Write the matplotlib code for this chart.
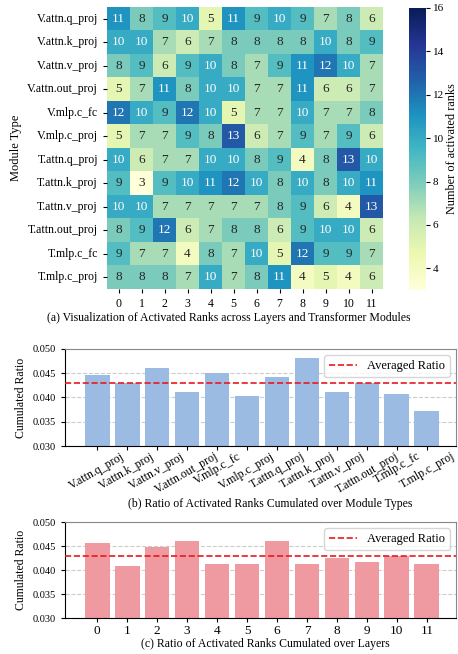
import numpy as np
import matplotlib.pyplot as plt
import seaborn as sns

plt.rcParams['font.family'] = ['Liberation Serif', 'DejaVu Serif']
plt.rcParams['mathtext.fontset'] = 'stix'

modules = ['V.attn.q_proj', 'V.attn.k_proj', 'V.attn.v_proj', 'V.attn.out_proj',
           'V.mlp.c_fc', 'V.mlp.c_proj', 'T.attn.q_proj', 'T.attn.k_proj',
           'T.attn.v_proj', 'T.attn.out_proj', 'T.mlp.c_fc', 'T.mlp.c_proj']
layers = list(range(12))

# activated ranks per (module, layer)
ranks = np.array([
    [11, 8, 9, 10, 5, 11, 9, 10, 9, 7, 8, 6],
    [10, 10, 7, 6, 7, 8, 8, 8, 8, 10, 8, 9],
    [8, 9, 6, 9, 10, 8, 7, 9, 11, 12, 10, 7],
    [5, 7, 11, 8, 10, 10, 7, 7, 11, 6, 6, 7],
    [12, 10, 9, 12, 10, 5, 7, 7, 10, 7, 7, 8],
    [5, 7, 7, 9, 8, 13, 6, 7, 9, 7, 9, 6],
    [10, 6, 7, 7, 10, 10, 8, 9, 4, 8, 13, 10],
    [9, 3, 9, 10, 11, 12, 10, 8, 10, 8, 10, 11],
    [10, 10, 7, 7, 7, 7, 7, 8, 9, 6, 4, 13],
    [8, 9, 12, 6, 7, 8, 8, 6, 9, 10, 10, 6],
    [9, 7, 7, 4, 8, 7, 10, 5, 12, 9, 9, 7],
    [8, 8, 8, 7, 10, 7, 8, 11, 4, 5, 4, 6],
])

module_ratio = [0.0447, 0.0430, 0.0460, 0.0412, 0.0451, 0.0404,
                0.0443, 0.0482, 0.0412, 0.0430, 0.0408, 0.0373]
layer_ratio = [0.0456, 0.0408, 0.0447, 0.0460, 0.0412, 0.0412,
               0.0460, 0.0412, 0.0425, 0.0417, 0.0430, 0.0412]
avg_ratio = 0.0429

W, H = 458, 654
fig = plt.figure(figsize=(W / 100, H / 100), dpi=100)


def box(l, t, r, b):
    return [l / W, 1 - b / H, (r - l) / W, (b - t) / H]


# (a) heatmap
ax = fig.add_axes(box(107, 7, 383, 289))
cax = fig.add_axes(box(409, 8, 426, 290))
sns.heatmap(ranks, ax=ax, cbar_ax=cax, cmap='YlGnBu', vmin=3, vmax=16,
            annot=True, fmt='d', annot_kws={'size': 9.5},
            xticklabels=layers, yticklabels=modules)
ax.tick_params(axis='both', labelsize=8.5, length=3)
ax.set_yticklabels(modules, rotation=0)
ax.set_ylabel('Module Type', fontsize=9)
cax.tick_params(labelsize=8, length=3, pad=2)
cax.set_yticks([4, 6, 8, 10, 12, 14, 16])
cax.set_ylabel('Number of activated ranks', fontsize=8.8, labelpad=1)
fig.text(229 / W, 1 - 318 / H,
         '(a) Visualization of Activated Ranks across Layers and Transformer Modules',
         ha='center', va='center', fontsize=8.5)


def ratio_bars(axb, values, color, labels, rot):
    x = np.arange(len(values))
    axb.bar(x, values, width=0.83, color=color, zorder=2)
    axb.axhline(avg_ratio, color='#e8191f', ls='--', lw=1.2, zorder=3,
                label='Averaged Ratio')
    axb.set_ylim(0.030, 0.050)
    axb.set_xlim(-1.07, 11.97)
    axb.set_yticks([0.030, 0.035, 0.040, 0.045, 0.050])
    axb.yaxis.grid(True, ls='--', color='#cccccc', lw=0.8, zorder=0)
    axb.set_xticks(x)
    if rot:
        axb.set_xticklabels(labels, rotation=30, ha='center', fontsize=8.6)
        axb.tick_params(axis='x', length=3, pad=0)
    else:
        axb.set_xticklabels(labels, fontsize=9.5)
        axb.tick_params(axis='x', length=3, pad=2)
    axb.tick_params(axis='y', labelsize=7.5, length=3)
    axb.set_ylabel('Cumulated Ratio', fontsize=8.5)
    for s in ['top', 'right']:
        axb.spines[s].set_color('#888888')
    axb.legend(loc='upper right', fontsize=9, handlelength=2.2,
               fancybox=True, framealpha=0.8)


# (b) cumulated over module types
axb = fig.add_axes(box(65, 349, 456, 446))
ratio_bars(axb, module_ratio, '#9bbbe2', modules, True)
fig.text(270 / W, 1 - 504 / H, '(b) Ratio of Activated Ranks Cumulated over Module Types',
         ha='center', va='center', fontsize=8.5)

# (c) cumulated over layers
axc = fig.add_axes(box(65, 522, 456, 618))
ratio_bars(axc, layer_ratio, '#ef9aa0', layers, False)
fig.text(265 / W, 1 - 644 / H, '(c) Ratio of Activated Ranks Cumulated over Layers',
         ha='center', va='center', fontsize=8.5)

fig.savefig('out.png', dpi=100)
